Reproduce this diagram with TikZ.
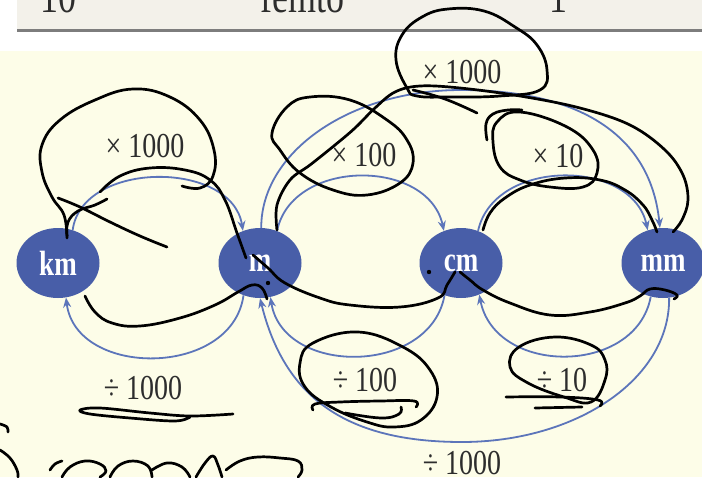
\documentclass[tikz,border=0pt]{standalone}
\usepackage{fontspec}
\setmainfont{Liberation Serif}
\usepackage{graphicx}
\usetikzlibrary{arrows.meta,shapes.geometric}
\definecolor{bgyellow}{RGB}{253,253,232}
\definecolor{stripgrey}{RGB}{243,241,234}
\definecolor{lineg}{RGB}{125,125,125}
\definecolor{unitblue}{RGB}{72,94,168}
\definecolor{arcblue}{RGB}{92,117,186}
\definecolor{txtgrey}{RGB}{45,45,45}
\begin{document}
\begin{tikzpicture}[x=1pt,y=-1pt,
  unit/.style={ellipse, fill=unitblue, draw=none, minimum width=83pt, minimum height=70pt, inner sep=0pt, text=white, font=\fontsize{27}{27}\selectfont\bfseries},
  conv/.style={draw=arcblue, line width=1.8pt, -{Stealth[length=10pt,width=8pt]}},
  lab/.style={font=\fontsize{28}{28}\selectfont, text=txtgrey, inner sep=0pt},
  headtxt/.style={font=\fontsize{36}{36}\selectfont, text=txtgrey, inner sep=0pt},
  scribble/.style={draw=black, line width=2.7pt, line cap=round, line join=round}
]
\useasboundingbox (0,0) rectangle (702,477);
\clip (0,0) rectangle (702,477);
\fill[white] (0,0) rectangle (702,477);
\fill[stripgrey] (17,0) rectangle (702,29);
\draw[lineg, line width=2.5pt] (17,30.5) -- (702,30.5);
\fill[bgyellow] (0,51) rectangle (702,477);

% cut-off table row
\node[headtxt, anchor=base west] (h1) at (40,12) {\scalebox{1}[1.3]{10}};
\node[headtxt, anchor=base west] (h2) at (260,12) {\scalebox{1}[1.3]{femto}};
\node[headtxt, anchor=base] (h3) at (558,12) {\scalebox{1}[1.3]{1}};

% units
\node[unit] (km) at (58,263) {\scalebox{1}[1.3]{km}};
\node[unit] (m)  at (260,263) {\scalebox{1}[1.3]{m}};
\node[unit] (cm) at (461,263) {\scalebox{1}[1.3]{cm}};
\node[unit] (mm) at (663,263) {\scalebox{1}[1.3]{mm}};

% multiply arcs
\draw[conv] (km.66) .. controls (82,160) and (232,160) .. (m.118);
\draw[conv] (m.62) .. controls (292,158) and (428,158) .. (cm.118);
\draw[conv] (cm.62) .. controls (494,158) and (632,158) .. (mm.115);
\draw[conv] (m.88) .. controls (261,152) and (350,90) .. (461,90)
   .. controls (572,90) and (650,130) .. (mm.95);

% divide arcs
\draw[conv] (m.243) .. controls (232,378) and (76,378) .. (km.283);
\draw[conv] (cm.243) .. controls (430,376) and (283,376) .. (m.287);
\draw[conv] (mm.250) .. controls (636,376) and (495,376) .. (cm.300);
\draw[conv] (mm.280) .. controls (670,380) and (575,442) .. (462,442)
   .. controls (349,442) and (285,400) .. (m.270);

% labels
\node[lab] (l1) at (145,146) {\scalebox{1}[1.25]{× 1000}};
\node[lab] (l2) at (364,155) {\scalebox{1}[1.25]{× 100}};
\node[lab] (l3) at (558,156) {\scalebox{1}[1.25]{× 10}};
\node[lab] (l4) at (462,72) {\scalebox{1}[1.25]{× 1000}};
\node[lab] (l5) at (143,388) {\scalebox{1}[1.25]{÷ 1000}};
\node[lab] (l6) at (365,380) {\scalebox{1}[1.25]{÷ 100}};
\node[lab] (l7) at (562,380) {\scalebox{1}[1.25]{÷ 10}};
\node[lab] (l8) at (462,463) {\scalebox{1}[1.25]{÷ 1000}};

% handwritten annotations
\draw[scribble] plot[smooth, tension=0.7] coordinates {(67,238) (64,215) (52,197) (42,172) (42,145) (60,120) (95,100) (133,89) (170,97) (200,120) (214,150) (213,176) (200,188) (182,186)};
\draw[scribble] plot[smooth, tension=0.7] coordinates {(67,236) (68,222) (78,211) (95,205) (107,199)};
\draw[scribble] plot[smooth, tension=0.7] coordinates {(58,198) (80,207) (110,222) (140,236) (167,247)};
\draw[scribble] plot[smooth, tension=0.7] coordinates {(100,192) (120,176) (150,168) (185,170) (210,180) (225,200) (237,233) (246,258)};
\draw[scribble] plot[smooth, tension=0.7] coordinates {(85,296) (95,312) (112,323) (140,326) (180,318) (215,305) (238,292) (252,285) (262,288) (267,299)};
\draw[scribble] plot[smooth, tension=0.7] coordinates {(253,255) (268,268) (285,283) (320,298) (350,305) (400,307) (438,298) (447,285) (455,272)};
\draw[scribble] plot[smooth, tension=0.7] coordinates {(460,272) (470,280) (483,290) (510,303) (550,315) (590,312) (625,303) (640,296) (650,289) (665,290) (677,295) (674,299)};
\fill (268,283) circle (2.2pt);
\fill (429,272) circle (2.2pt);
% x100 loop
\draw[scribble] plot[smooth cycle, tension=0.7] coordinates {(272,133) (287,107) (310,97) (350,100) (387,120) (407,140) (413,163) (400,183) (367,195) (333,190) (300,173) (280,150)};
% long stroke from m over the top to mm
\draw[scribble] plot[smooth, tension=0.6] coordinates {(277,230) (277,205) (290,180) (310,165) (335,145) (355,128) (375,108) (395,92) (420,86) (460,88) (520,96) (580,108) (630,125) (665,150) (683,175) (688,200) (682,220) (673,232)};
\draw[scribble] plot[smooth, tension=0.7] coordinates {(413,90) (445,99) (477,113)};
% big x1000 loop
\draw[scribble] plot[smooth cycle, tension=0.7] coordinates {(407,88) (396,60) (402,35) (422,17) (448,9) (484,11) (515,27) (537,45) (547,70) (540,90) (500,96) (450,97) (417,96)};
% x10 loop
\draw[scribble] plot[smooth, tension=0.7] coordinates {(487,140) (486,124) (493,114) (508,110) (522,110)};
\draw[scribble] plot[smooth cycle, tension=0.7] coordinates {(497,122) (520,112) (567,127) (593,150) (597,173) (583,187) (550,187) (520,180) (500,167) (493,142)};
\draw[scribble] plot[smooth, tension=0.7] coordinates {(483,230) (490,213) (505,198) (530,185) (565,178) (600,180) (625,190) (643,205) (652,220) (657,232)};
% divide loops and underlines
\draw[scribble] plot[smooth cycle, tension=0.7] coordinates {(358,332) (313,343) (300,363) (305,387) (331,407) (367,422) (394,427) (421,420) (437,397) (430,370) (403,347)};
\draw[scribble] plot[smooth, tension=0.7] coordinates {(313,410) (315,404) (340,402) (380,401) (414,401) (416,407)};
\draw[scribble] plot[smooth, tension=0.7] coordinates {(345,413) (381,418) (399,414) (401,407)};
\draw[scribble] plot[smooth cycle, tension=0.7] coordinates {(555,337) (519,347) (510,367) (528,383) (564,397) (591,402) (605,380) (605,360) (591,345)};
\draw[scribble] plot[smooth, tension=0.7] coordinates {(506,397) (560,397) (598,400) (600,406)};
\draw[scribble] plot[smooth, tension=0.7] coordinates {(535,408) (582,407)};
\draw[scribble] plot[smooth, tension=0.6] coordinates {(233,414) (190,416) (150,413) (100,408) (80,410) (90,414) (130,418) (175,421) (190,417)};
% cursive at bottom left
\draw[scribble] plot[smooth, tension=0.7] coordinates {(0,424) (7,427) (8,432)};
\draw[scribble] plot[smooth, tension=0.7] coordinates {(0,450) (10,458) (17,470) (18,477)};
\draw[scribble] plot[smooth, tension=0.7] coordinates {(50,470) (55,464) (62,461)};
\draw[scribble] plot[smooth, tension=0.7] coordinates {(62,477) (70,467) (85,461) (100,464) (106,471) (100,477)};
\draw[scribble] plot[smooth, tension=0.7] coordinates {(110,477) (118,466) (133,461) (148,466) (152,477)};
\draw[scribble] plot[smooth, tension=0.7] coordinates {(152,470) (167,463) (182,467) (190,477)};
\draw[scribble] plot[smooth, tension=0.7] coordinates {(196,477) (205,463) (213,456) (218,465) (222,477)};
\draw[scribble] plot[smooth, tension=0.7] coordinates {(226,470) (240,461) (258,457) (280,458) (298,461) (302,470) (298,477)};
\end{tikzpicture}
\end{document}
